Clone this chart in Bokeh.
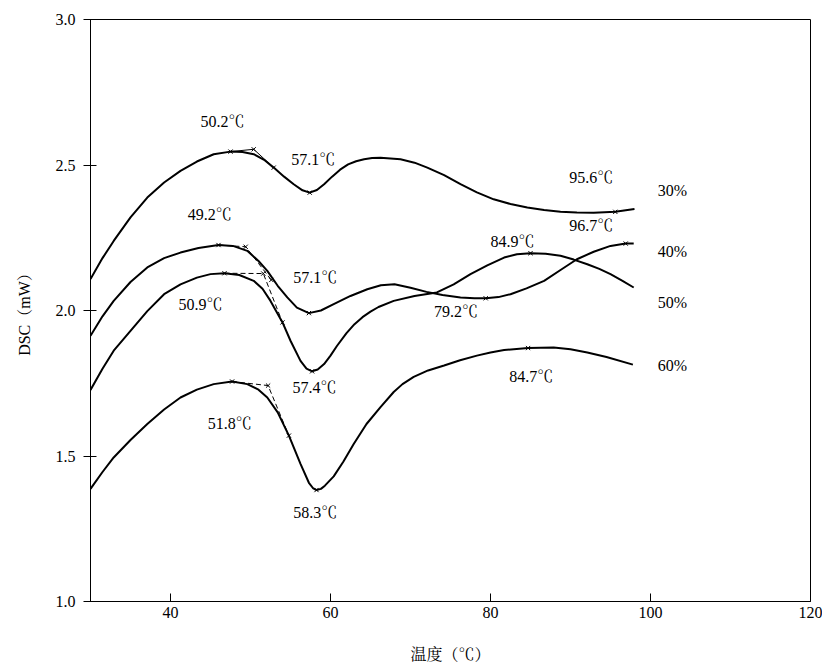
from bokeh.plotting import figure
from bokeh.models import ColumnDataSource, FixedTicker, PrintfTickFormatter
from bokeh.core.properties import value
from bokeh.embed import file_html
from bokeh.resources import INLINE

# ---------------- data ----------------
t30 = [30.0, 31.5, 32.9, 35.0, 37.1, 39.2, 41.25, 43.3, 45.4, 47.5, 49.0, 50.4, 51.7, 52.9,
       54.2, 55.4, 56.5, 57.4, 58.3, 59.2, 60.2, 61.2, 62.2, 63.2, 64.2, 65.2, 66.25, 68.75, 70.5, 72.1,
       74.2, 76.25, 78.3, 80.4, 82.5, 84.6, 86.7, 88.75, 90.8, 92.9, 95.6, 98.0]
v30 = [2.108, 2.180, 2.239, 2.320, 2.388, 2.440, 2.480, 2.512, 2.537, 2.546, 2.545, 2.537, 2.518, 2.491,
       2.460, 2.434, 2.413, 2.405, 2.414, 2.434, 2.460, 2.484, 2.502, 2.513, 2.520, 2.524, 2.525, 2.520, 2.508, 2.491,
       2.465, 2.434, 2.406, 2.382, 2.366, 2.354, 2.345, 2.339, 2.337, 2.336, 2.339, 2.349]

t40 = [30.0, 31.5, 32.9, 35.0, 37.1, 39.2, 41.25, 43.5, 46.0, 47.8, 49.6, 51.0, 52.1, 53.4,
       54.6, 55.8, 57.3, 58.8, 60.4, 62.5, 64.6, 66.3, 68.0, 70.0, 72.0, 74.0, 76.25, 78.0,
       79.4, 81.0, 82.5, 84.5, 86.7, 88.8, 90.8, 92.9, 95.0, 96.9, 97.9]
v40 = [1.913, 1.980, 2.033, 2.098, 2.148, 2.180, 2.199, 2.215, 2.225, 2.222, 2.205, 2.170, 2.136, 2.085,
       2.045, 2.010, 1.991, 2.000, 2.022, 2.050, 2.073, 2.087, 2.090, 2.078, 2.064, 2.053, 2.045, 2.042,
       2.042, 2.046, 2.056, 2.076, 2.102, 2.140, 2.176, 2.202, 2.222, 2.230, 2.230]

t50 = [30.0, 31.5, 32.9, 35.0, 37.1, 39.2, 41.25, 43.3, 45.0, 46.75, 48.6, 50.4, 51.5, 52.5,
       54.0, 55.0, 56.25, 57.0, 57.7, 58.4, 59.2, 60.0, 60.8, 62.0, 63.0, 64.0, 65.0, 66.0, 67.9, 70.5,
       73.3, 75.4, 77.5, 79.6, 81.7, 83.3, 85.0, 86.9, 88.75, 90.4, 92.1, 93.6, 95.0, 96.5, 97.9]
v50 = [1.727, 1.800, 1.862, 1.930, 1.998, 2.056, 2.090, 2.113, 2.125, 2.128, 2.122, 2.102, 2.075, 2.033,
       1.959, 1.896, 1.827, 1.800, 1.791, 1.797, 1.816, 1.845, 1.878, 1.922, 1.953, 1.977, 1.996, 2.012, 2.033, 2.050,
       2.062, 2.090, 2.125, 2.155, 2.182, 2.193, 2.197, 2.195, 2.188, 2.175, 2.159, 2.143, 2.125, 2.102, 2.079]

t60 = [30.0, 31.5, 32.9, 35.0, 37.1, 39.2, 41.25, 43.3, 45.4, 47.7, 49.6, 51.0, 52.1, 53.4,
       54.8, 56.25, 57.3, 57.8, 58.25, 58.8, 59.3, 60.4, 61.6, 62.9, 64.5, 66.25, 67.9, 69.0, 70.4, 72.2,
       74.2, 76.2, 78.3, 80.0, 81.7, 84.7, 87.9, 90.0, 92.1, 94.5, 97.8]
v60 = [1.387, 1.445, 1.495, 1.555, 1.610, 1.660, 1.701, 1.728, 1.747, 1.756, 1.747, 1.728, 1.701, 1.650,
       1.570, 1.473, 1.408, 1.390, 1.383, 1.387, 1.398, 1.430, 1.480, 1.541, 1.610, 1.668, 1.720, 1.747, 1.772, 1.794,
       1.811, 1.829, 1.845, 1.856, 1.864, 1.871, 1.873, 1.867, 1.856, 1.840, 1.814]

# characteristic points (x marks)
mk30_t = [47.5, 50.4, 52.9, 57.4, 95.6]
mk30_v = [2.546, 2.554, 2.491, 2.405, 2.339]
mk40_t = [46.0, 49.4, 52.6, 57.3, 79.4, 96.9]
mk40_v = [2.225, 2.219, 2.105, 1.991, 2.042, 2.230]
mk50_t = [46.75, 51.6, 54.0, 57.7, 85.0]
mk50_v = [2.128, 2.127, 1.959, 1.791, 2.197]
mk60_t = [47.7, 52.2, 54.8, 58.25, 84.7]
mk60_v = [1.756, 1.742, 1.570, 1.383, 1.871]

# onset construction lines (peak -> onset -> tangent point)
tan30_t = [47.5, 50.4, 52.9]
tan30_v = [2.546, 2.554, 2.491]
tan40_t = [46.0, 49.4, 52.6]
tan40_v = [2.225, 2.219, 2.105]
tan50_t = [46.75, 51.6, 54.0]
tan50_v = [2.128, 2.127, 1.959]
tan60_t = [47.7, 52.2, 54.8]
tan60_v = [1.756, 1.742, 1.570]

# annotations
ann_text = ["50.2℃", "57.1℃", "95.6℃", "49.2℃", "57.1℃", "79.2℃", "96.7℃",
            "50.9℃", "57.4℃", "84.9℃", "51.8℃", "58.3℃", "84.7℃"]
ann_t = [46.5, 57.85, 92.6, 44.9, 58.1, 75.7, 92.6, 43.75, 58.0, 82.75, 47.4, 58.1, 85.1]
ann_v = [2.649, 2.518, 2.456, 2.329, 2.113, 1.997, 2.292, 2.021, 1.736, 2.237, 1.612, 1.307, 1.774]

conc_text = ["30%", "40%", "50%", "60%"]
conc_t = [100.9, 100.9, 100.9, 100.9]
conc_v = [2.412, 2.202, 2.027, 1.811]

x_ticks = [40, 60, 80, 100, 120]
y_ticks = [1.0, 1.5, 2.0, 2.5, 3.0]

FONT = "'Liberation Serif', 'Noto Serif CJK SC', 'Noto Sans CJK SC', serif"

p = figure(width=822, height=666, x_range=(30, 120), y_range=(1.0, 3.0),
           output_backend="svg", toolbar_location=None,
           min_border_left=90, min_border_right=12, min_border_top=19, min_border_bottom=65)

p.background_fill_color = "white"
p.border_fill_color = "white"
p.outline_line_color = "black"
p.outline_line_width = 1
p.xgrid.visible = False
p.ygrid.visible = False

p.xaxis.ticker = FixedTicker(ticks=x_ticks)
p.yaxis.ticker = FixedTicker(ticks=y_ticks)
p.yaxis.formatter = PrintfTickFormatter(format="%.1f")
p.xaxis.minor_tick_line_color = None
p.yaxis.minor_tick_line_color = None
p.xaxis.major_tick_in = 8
p.xaxis.major_tick_out = 0
p.yaxis.major_tick_in = 6
p.yaxis.major_tick_out = 7
for ax in (p.xaxis, p.yaxis):
    ax.axis_line_color = "black"
    ax.major_tick_line_color = "black"
    ax.major_label_text_font = FONT
    ax.major_label_text_font_size = "16px"
    ax.major_label_text_color = "black"
    ax.axis_label_text_font = FONT
    ax.axis_label_text_font_size = "16px"
    ax.axis_label_text_font_style = "normal"
    ax.axis_label_text_color = "black"
p.xaxis.major_label_standoff = 5
p.yaxis.major_label_standoff = 8
p.xaxis.axis_label = "温度（℃）"
p.yaxis.axis_label = "DSC（mW）"
p.xaxis.axis_label_standoff = 25
p.yaxis.axis_label_standoff = 20

curves = [(t30, v30), (t40, v40), (t50, v50), (t60, v60)]
for t, v in curves:
    p.line(t, v, line_color="black", line_width=2)

tans = [(tan30_t, tan30_v, "solid"), (tan40_t, tan40_v, "5 3"),
        (tan50_t, tan50_v, "5 3"), (tan60_t, tan60_v, "5 3")]
for t, v, dash in tans:
    p.line(t, v, line_color="black", line_width=1, line_dash=dash)

marks = [(mk30_t, mk30_v), (mk40_t, mk40_v), (mk50_t, mk50_v), (mk60_t, mk60_v)]
for t, v in marks:
    p.scatter(t, v, marker="x", size=6, line_color="black", line_width=1)

ann_src = ColumnDataSource(data=dict(x=ann_t, y=ann_v, text=ann_text))
p.text(x="x", y="y", text="text", source=ann_src, text_font=value(FONT),
       text_font_size="16px", text_align="center", text_baseline="middle", text_color="black")

conc_src = ColumnDataSource(data=dict(x=conc_t, y=conc_v, text=conc_text))
p.text(x="x", y="y", text="text", source=conc_src, text_font=value(FONT),
       text_font_size="16px", text_align="left", text_baseline="middle", text_color="black")

open("out.html", "w").write(file_html(p, INLINE))
